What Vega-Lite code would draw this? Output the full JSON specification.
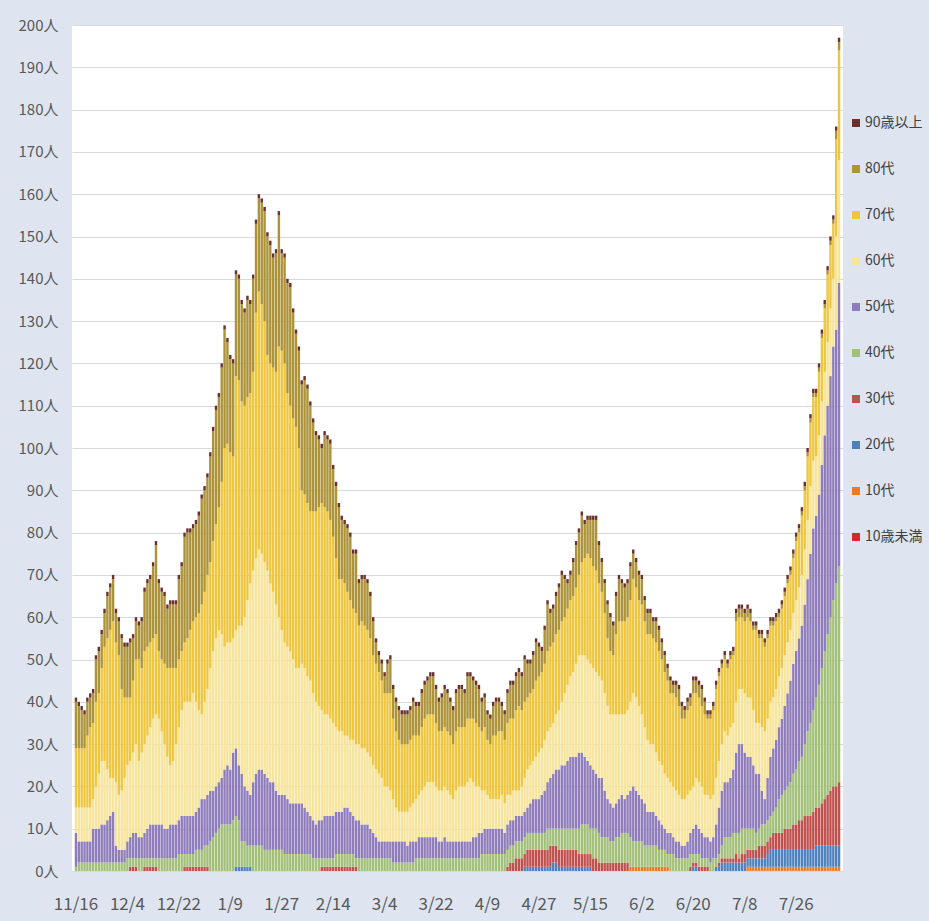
{
"$schema":"https://vega.github.io/schema/vega-lite/v6.json",
"width":771,"height":846,
"autosize":{"type":"none"},
"padding":{"left":72,"top":25,"right":86,"bottom":50},
"background":"#DEE5F0",
"config":{"view":{"fill":"white","stroke":null},"font":"Noto Sans CJK JP"},
"data":{"values":[
{"d":"11/16","k0":0,"k1":0,"k2":0,"k3":0,"k4":1,"k5":8,"k6":6,"k7":14,"k8":11,"k9":1},
{"d":"11/17","k0":0,"k1":0,"k2":0,"k3":0,"k4":2,"k5":5,"k6":8,"k7":14,"k8":10,"k9":1},
{"d":"11/18","k0":0,"k1":0,"k2":0,"k3":0,"k4":2,"k5":5,"k6":8,"k7":14,"k8":9,"k9":1},
{"d":"11/19","k0":0,"k1":0,"k2":0,"k3":0,"k4":2,"k5":5,"k6":8,"k7":14,"k8":8,"k9":1},
{"d":"11/20","k0":0,"k1":0,"k2":0,"k3":0,"k4":2,"k5":5,"k6":8,"k7":17,"k8":8,"k9":1},
{"d":"11/21","k0":0,"k1":0,"k2":0,"k3":0,"k4":2,"k5":5,"k6":8,"k7":19,"k8":7,"k9":1},
{"d":"11/22","k0":0,"k1":0,"k2":0,"k3":0,"k4":2,"k5":8,"k6":7,"k7":18,"k8":7,"k9":1},
{"d":"11/23","k0":0,"k1":0,"k2":0,"k3":0,"k4":2,"k5":8,"k6":10,"k7":20,"k8":10,"k9":1},
{"d":"11/24","k0":0,"k1":0,"k2":0,"k3":0,"k4":2,"k5":8,"k6":13,"k7":19,"k8":10,"k9":1},
{"d":"11/25","k0":0,"k1":0,"k2":0,"k3":0,"k4":2,"k5":9,"k6":15,"k7":22,"k8":8,"k9":1},
{"d":"11/26","k0":0,"k1":0,"k2":0,"k3":0,"k4":2,"k5":9,"k6":15,"k7":27,"k8":8,"k9":1},
{"d":"11/27","k0":0,"k1":0,"k2":0,"k3":0,"k4":2,"k5":10,"k6":12,"k7":31,"k8":10,"k9":1},
{"d":"11/28","k0":0,"k1":0,"k2":0,"k3":0,"k4":2,"k5":11,"k6":9,"k7":35,"k8":10,"k9":1},
{"d":"11/29","k0":0,"k1":0,"k2":0,"k3":0,"k4":2,"k5":12,"k6":8,"k7":37,"k8":10,"k9":1},
{"d":"11/30","k0":0,"k1":0,"k2":0,"k3":0,"k4":2,"k5":4,"k6":15,"k7":33,"k8":7,"k9":1},
{"d":"12/1","k0":0,"k1":0,"k2":0,"k3":0,"k4":2,"k5":3,"k6":13,"k7":33,"k8":8,"k9":1},
{"d":"12/2","k0":0,"k1":0,"k2":0,"k3":0,"k4":2,"k5":3,"k6":14,"k7":24,"k8":12,"k9":1},
{"d":"12/3","k0":0,"k1":0,"k2":0,"k3":0,"k4":2,"k5":3,"k6":17,"k7":19,"k8":12,"k9":1},
{"d":"12/4","k0":0,"k1":0,"k2":0,"k3":0,"k4":3,"k5":4,"k6":18,"k7":16,"k8":12,"k9":1},
{"d":"12/5","k0":0,"k1":0,"k2":0,"k3":1,"k4":2,"k5":5,"k6":18,"k7":15,"k8":13,"k9":1},
{"d":"12/6","k0":0,"k1":0,"k2":0,"k3":1,"k4":2,"k5":6,"k6":19,"k7":17,"k8":10,"k9":1},
{"d":"12/7","k0":0,"k1":0,"k2":0,"k3":1,"k4":2,"k5":6,"k6":21,"k7":20,"k8":9,"k9":1},
{"d":"12/8","k0":0,"k1":0,"k2":0,"k3":0,"k4":3,"k5":5,"k6":18,"k7":24,"k8":8,"k9":1},
{"d":"12/9","k0":0,"k1":0,"k2":0,"k3":0,"k4":3,"k5":5,"k6":20,"k7":20,"k8":11,"k9":1},
{"d":"12/10","k0":0,"k1":0,"k2":0,"k3":1,"k4":2,"k5":6,"k6":21,"k7":22,"k8":14,"k9":1},
{"d":"12/11","k0":0,"k1":0,"k2":0,"k3":1,"k4":2,"k5":7,"k6":22,"k7":21,"k8":15,"k9":1},
{"d":"12/12","k0":0,"k1":0,"k2":0,"k3":1,"k4":2,"k5":8,"k6":23,"k7":20,"k8":15,"k9":1},
{"d":"12/13","k0":0,"k1":0,"k2":0,"k3":1,"k4":2,"k5":8,"k6":25,"k7":19,"k8":17,"k9":1},
{"d":"12/14","k0":0,"k1":0,"k2":0,"k3":1,"k4":2,"k5":8,"k6":26,"k7":19,"k8":21,"k9":1},
{"d":"12/15","k0":0,"k1":0,"k2":0,"k3":0,"k4":3,"k5":8,"k6":25,"k7":16,"k8":16,"k9":1},
{"d":"12/16","k0":0,"k1":0,"k2":0,"k3":0,"k4":3,"k5":8,"k6":22,"k7":17,"k8":16,"k9":1},
{"d":"12/17","k0":0,"k1":0,"k2":0,"k3":0,"k4":3,"k5":7,"k6":20,"k7":19,"k8":16,"k9":1},
{"d":"12/18","k0":0,"k1":0,"k2":0,"k3":0,"k4":3,"k5":7,"k6":17,"k7":21,"k8":14,"k9":1},
{"d":"12/19","k0":0,"k1":0,"k2":0,"k3":0,"k4":3,"k5":8,"k6":14,"k7":23,"k8":15,"k9":1},
{"d":"12/20","k0":0,"k1":0,"k2":0,"k3":0,"k4":3,"k5":8,"k6":15,"k7":22,"k8":15,"k9":1},
{"d":"12/21","k0":0,"k1":0,"k2":0,"k3":0,"k4":3,"k5":8,"k6":19,"k7":18,"k8":15,"k9":1},
{"d":"12/22","k0":0,"k1":0,"k2":0,"k3":0,"k4":4,"k5":8,"k6":22,"k7":16,"k8":19,"k9":1},
{"d":"12/23","k0":0,"k1":0,"k2":0,"k3":0,"k4":4,"k5":9,"k6":25,"k7":14,"k8":20,"k9":1},
{"d":"12/24","k0":0,"k1":0,"k2":0,"k3":1,"k4":3,"k5":9,"k6":27,"k7":14,"k8":25,"k9":1},
{"d":"12/25","k0":0,"k1":0,"k2":0,"k3":1,"k4":3,"k5":9,"k6":27,"k7":15,"k8":25,"k9":1},
{"d":"12/26","k0":0,"k1":0,"k2":0,"k3":1,"k4":3,"k5":9,"k6":27,"k7":17,"k8":23,"k9":1},
{"d":"12/27","k0":0,"k1":0,"k2":0,"k3":1,"k4":3,"k5":9,"k6":29,"k7":17,"k8":22,"k9":1},
{"d":"12/28","k0":0,"k1":0,"k2":0,"k3":1,"k4":4,"k5":9,"k6":26,"k7":20,"k8":22,"k9":1},
{"d":"12/29","k0":0,"k1":0,"k2":0,"k3":1,"k4":4,"k5":10,"k6":23,"k7":23,"k8":23,"k9":1},
{"d":"12/30","k0":0,"k1":0,"k2":0,"k3":1,"k4":4,"k5":12,"k6":20,"k7":26,"k8":25,"k9":1},
{"d":"12/31","k0":0,"k1":0,"k2":0,"k3":1,"k4":5,"k5":11,"k6":23,"k7":26,"k8":24,"k9":1},
{"d":"1/1","k0":0,"k1":0,"k2":0,"k3":1,"k4":5,"k5":12,"k6":25,"k7":27,"k8":23,"k9":1},
{"d":"1/2","k0":0,"k1":0,"k2":0,"k3":0,"k4":7,"k5":12,"k6":29,"k7":25,"k8":25,"k9":1},
{"d":"1/3","k0":0,"k1":0,"k2":0,"k3":0,"k4":8,"k5":11,"k6":33,"k7":26,"k8":26,"k9":1},
{"d":"1/4","k0":0,"k1":0,"k2":0,"k3":0,"k4":9,"k5":11,"k6":35,"k7":27,"k8":27,"k9":1},
{"d":"1/5","k0":0,"k1":0,"k2":0,"k3":0,"k4":10,"k5":11,"k6":36,"k7":29,"k8":26,"k9":1},
{"d":"1/6","k0":0,"k1":0,"k2":0,"k3":0,"k4":11,"k5":11,"k6":34,"k7":36,"k8":27,"k9":1},
{"d":"1/7","k0":0,"k1":0,"k2":0,"k3":0,"k4":11,"k5":13,"k6":29,"k7":47,"k8":28,"k9":1},
{"d":"1/8","k0":0,"k1":0,"k2":0,"k3":0,"k4":11,"k5":14,"k6":29,"k7":47,"k8":24,"k9":1},
{"d":"1/9","k0":0,"k1":0,"k2":0,"k3":0,"k4":11,"k5":13,"k6":30,"k7":45,"k8":22,"k9":1},
{"d":"1/10","k0":0,"k1":0,"k2":0,"k3":0,"k4":12,"k5":16,"k6":27,"k7":43,"k8":22,"k9":1},
{"d":"1/11","k0":0,"k1":0,"k2":1,"k3":0,"k4":12,"k5":16,"k6":28,"k7":60,"k8":24,"k9":1},
{"d":"1/12","k0":0,"k1":0,"k2":1,"k3":0,"k4":11,"k5":13,"k6":33,"k7":58,"k8":24,"k9":1},
{"d":"1/13","k0":0,"k1":0,"k2":1,"k3":0,"k4":6,"k5":16,"k6":35,"k7":53,"k8":23,"k9":1},
{"d":"1/14","k0":0,"k1":0,"k2":1,"k3":0,"k4":6,"k5":13,"k6":40,"k7":50,"k8":22,"k9":1},
{"d":"1/15","k0":0,"k1":0,"k2":1,"k3":0,"k4":5,"k5":13,"k6":45,"k7":48,"k8":23,"k9":1},
{"d":"1/16","k0":0,"k1":0,"k2":1,"k3":0,"k4":5,"k5":12,"k6":50,"k7":45,"k8":21,"k9":1},
{"d":"1/17","k0":0,"k1":0,"k2":0,"k3":0,"k4":6,"k5":15,"k6":50,"k7":47,"k8":22,"k9":1},
{"d":"1/18","k0":0,"k1":0,"k2":0,"k3":0,"k4":6,"k5":17,"k6":51,"k7":58,"k8":21,"k9":1},
{"d":"1/19","k0":0,"k1":0,"k2":0,"k3":0,"k4":6,"k5":18,"k6":52,"k7":61,"k8":22,"k9":1},
{"d":"1/20","k0":0,"k1":0,"k2":0,"k3":0,"k4":6,"k5":18,"k6":51,"k7":59,"k8":24,"k9":1},
{"d":"1/21","k0":0,"k1":0,"k2":0,"k3":0,"k4":5,"k5":18,"k6":50,"k7":57,"k8":26,"k9":1},
{"d":"1/22","k0":0,"k1":0,"k2":0,"k3":0,"k4":5,"k5":17,"k6":49,"k7":51,"k8":28,"k9":1},
{"d":"1/23","k0":0,"k1":0,"k2":0,"k3":0,"k4":5,"k5":16,"k6":47,"k7":52,"k8":28,"k9":1},
{"d":"1/24","k0":0,"k1":0,"k2":0,"k3":0,"k4":5,"k5":16,"k6":45,"k7":53,"k8":26,"k9":1},
{"d":"1/25","k0":0,"k1":0,"k2":0,"k3":0,"k4":5,"k5":14,"k6":44,"k7":55,"k8":28,"k9":1},
{"d":"1/26","k0":0,"k1":0,"k2":0,"k3":0,"k4":5,"k5":13,"k6":42,"k7":64,"k8":31,"k9":1},
{"d":"1/27","k0":0,"k1":0,"k2":0,"k3":0,"k4":5,"k5":13,"k6":39,"k7":66,"k8":23,"k9":1},
{"d":"1/28","k0":0,"k1":0,"k2":0,"k3":0,"k4":4,"k5":14,"k6":36,"k7":66,"k8":25,"k9":1},
{"d":"1/29","k0":0,"k1":0,"k2":0,"k3":0,"k4":4,"k5":13,"k6":36,"k7":60,"k8":26,"k9":1},
{"d":"1/30","k0":0,"k1":0,"k2":0,"k3":0,"k4":4,"k5":12,"k6":36,"k7":58,"k8":28,"k9":1},
{"d":"1/31","k0":0,"k1":0,"k2":0,"k3":0,"k4":4,"k5":12,"k6":34,"k7":57,"k8":25,"k9":1},
{"d":"2/1","k0":0,"k1":0,"k2":0,"k3":0,"k4":4,"k5":12,"k6":32,"k7":57,"k8":22,"k9":1},
{"d":"2/2","k0":0,"k1":0,"k2":0,"k3":0,"k4":4,"k5":12,"k6":32,"k7":52,"k8":23,"k9":1},
{"d":"2/3","k0":0,"k1":0,"k2":0,"k3":0,"k4":4,"k5":12,"k6":33,"k7":41,"k8":25,"k9":1},
{"d":"2/4","k0":0,"k1":0,"k2":0,"k3":0,"k4":4,"k5":11,"k6":33,"k7":41,"k8":27,"k9":1},
{"d":"2/5","k0":0,"k1":0,"k2":0,"k3":0,"k4":4,"k5":10,"k6":32,"k7":41,"k8":27,"k9":1},
{"d":"2/6","k0":0,"k1":0,"k2":0,"k3":0,"k4":4,"k5":9,"k6":32,"k7":40,"k8":25,"k9":1},
{"d":"2/7","k0":0,"k1":0,"k2":0,"k3":0,"k4":3,"k5":9,"k6":30,"k7":43,"k8":21,"k9":1},
{"d":"2/8","k0":0,"k1":0,"k2":0,"k3":0,"k4":3,"k5":8,"k6":29,"k7":45,"k8":18,"k9":1},
{"d":"2/9","k0":0,"k1":0,"k2":0,"k3":0,"k4":3,"k5":9,"k6":27,"k7":47,"k8":16,"k9":1},
{"d":"2/10","k0":0,"k1":0,"k2":0,"k3":1,"k4":2,"k5":9,"k6":26,"k7":49,"k8":13,"k9":1},
{"d":"2/11","k0":0,"k1":0,"k2":0,"k3":1,"k4":2,"k5":10,"k6":24,"k7":49,"k8":17,"k9":1},
{"d":"2/12","k0":0,"k1":0,"k2":0,"k3":1,"k4":2,"k5":10,"k6":24,"k7":48,"k8":17,"k9":1},
{"d":"2/13","k0":0,"k1":0,"k2":0,"k3":1,"k4":2,"k5":10,"k6":23,"k7":47,"k8":18,"k9":1},
{"d":"2/14","k0":0,"k1":0,"k2":0,"k3":1,"k4":2,"k5":10,"k6":22,"k7":44,"k8":16,"k9":1},
{"d":"2/15","k0":0,"k1":0,"k2":0,"k3":1,"k4":3,"k5":10,"k6":20,"k7":40,"k8":17,"k9":1},
{"d":"2/16","k0":0,"k1":0,"k2":0,"k3":1,"k4":3,"k5":10,"k6":19,"k7":36,"k8":17,"k9":1},
{"d":"2/17","k0":0,"k1":0,"k2":0,"k3":1,"k4":3,"k5":10,"k6":19,"k7":36,"k8":14,"k9":1},
{"d":"2/18","k0":0,"k1":0,"k2":0,"k3":1,"k4":3,"k5":11,"k6":17,"k7":36,"k8":14,"k9":1},
{"d":"2/19","k0":0,"k1":0,"k2":0,"k3":1,"k4":3,"k5":11,"k6":17,"k7":34,"k8":15,"k9":1},
{"d":"2/20","k0":0,"k1":0,"k2":0,"k3":1,"k4":3,"k5":10,"k6":17,"k7":33,"k8":15,"k9":1},
{"d":"2/21","k0":0,"k1":0,"k2":0,"k3":1,"k4":3,"k5":9,"k6":18,"k7":31,"k8":13,"k9":1},
{"d":"2/22","k0":0,"k1":0,"k2":0,"k3":1,"k4":2,"k5":9,"k6":18,"k7":31,"k8":14,"k9":1},
{"d":"2/23","k0":0,"k1":0,"k2":0,"k3":0,"k4":3,"k5":9,"k6":18,"k7":28,"k8":10,"k9":1},
{"d":"2/24","k0":0,"k1":0,"k2":0,"k3":0,"k4":3,"k5":8,"k6":18,"k7":30,"k8":10,"k9":1},
{"d":"2/25","k0":0,"k1":0,"k2":0,"k3":0,"k4":3,"k5":8,"k6":18,"k7":29,"k8":11,"k9":1},
{"d":"2/26","k0":0,"k1":0,"k2":0,"k3":0,"k4":3,"k5":8,"k6":17,"k7":29,"k8":11,"k9":1},
{"d":"2/27","k0":0,"k1":0,"k2":0,"k3":0,"k4":3,"k5":7,"k6":17,"k7":28,"k8":10,"k9":1},
{"d":"2/28","k0":0,"k1":0,"k2":0,"k3":0,"k4":3,"k5":6,"k6":16,"k7":26,"k8":8,"k9":1},
{"d":"3/1","k0":0,"k1":0,"k2":0,"k3":0,"k4":3,"k5":5,"k6":16,"k7":25,"k8":5,"k9":1},
{"d":"3/2","k0":0,"k1":0,"k2":0,"k3":0,"k4":3,"k5":4,"k6":16,"k7":24,"k8":4,"k9":1},
{"d":"3/3","k0":0,"k1":0,"k2":0,"k3":0,"k4":3,"k5":4,"k6":15,"k7":23,"k8":4,"k9":1},
{"d":"3/4","k0":0,"k1":0,"k2":0,"k3":0,"k4":3,"k5":4,"k6":13,"k7":22,"k8":4,"k9":1},
{"d":"3/5","k0":0,"k1":0,"k2":0,"k3":0,"k4":3,"k5":4,"k6":13,"k7":22,"k8":7,"k9":1},
{"d":"3/6","k0":0,"k1":0,"k2":0,"k3":0,"k4":3,"k5":4,"k6":12,"k7":23,"k8":8,"k9":1},
{"d":"3/7","k0":0,"k1":0,"k2":0,"k3":0,"k4":2,"k5":5,"k6":10,"k7":19,"k8":7,"k9":1},
{"d":"3/8","k0":0,"k1":0,"k2":0,"k3":0,"k4":2,"k5":5,"k6":8,"k7":18,"k8":7,"k9":1},
{"d":"3/9","k0":0,"k1":0,"k2":0,"k3":0,"k4":2,"k5":5,"k6":7,"k7":17,"k8":7,"k9":1},
{"d":"3/10","k0":0,"k1":0,"k2":0,"k3":0,"k4":2,"k5":5,"k6":7,"k7":16,"k8":7,"k9":1},
{"d":"3/11","k0":0,"k1":0,"k2":0,"k3":0,"k4":2,"k5":5,"k6":7,"k7":16,"k8":7,"k9":1},
{"d":"3/12","k0":0,"k1":0,"k2":0,"k3":0,"k4":2,"k5":4,"k6":8,"k7":16,"k8":7,"k9":1},
{"d":"3/13","k0":0,"k1":0,"k2":0,"k3":0,"k4":2,"k5":5,"k6":8,"k7":16,"k8":7,"k9":1},
{"d":"3/14","k0":0,"k1":0,"k2":0,"k3":0,"k4":2,"k5":5,"k6":9,"k7":16,"k8":8,"k9":1},
{"d":"3/15","k0":0,"k1":0,"k2":0,"k3":0,"k4":3,"k5":4,"k6":10,"k7":15,"k8":7,"k9":1},
{"d":"3/16","k0":0,"k1":0,"k2":0,"k3":0,"k4":3,"k5":5,"k6":10,"k7":14,"k8":7,"k9":1},
{"d":"3/17","k0":0,"k1":0,"k2":0,"k3":0,"k4":3,"k5":5,"k6":11,"k7":15,"k8":8,"k9":1},
{"d":"3/18","k0":0,"k1":0,"k2":0,"k3":0,"k4":3,"k5":5,"k6":12,"k7":16,"k8":8,"k9":1},
{"d":"3/19","k0":0,"k1":0,"k2":0,"k3":0,"k4":3,"k5":5,"k6":13,"k7":16,"k8":8,"k9":1},
{"d":"3/20","k0":0,"k1":0,"k2":0,"k3":0,"k4":3,"k5":5,"k6":13,"k7":16,"k8":9,"k9":1},
{"d":"3/21","k0":0,"k1":0,"k2":0,"k3":0,"k4":3,"k5":5,"k6":13,"k7":16,"k8":9,"k9":1},
{"d":"3/22","k0":0,"k1":0,"k2":0,"k3":0,"k4":3,"k5":5,"k6":12,"k7":15,"k8":8,"k9":1},
{"d":"3/23","k0":0,"k1":0,"k2":0,"k3":0,"k4":3,"k5":4,"k6":12,"k7":14,"k8":7,"k9":1},
{"d":"3/24","k0":0,"k1":0,"k2":0,"k3":0,"k4":3,"k5":4,"k6":12,"k7":14,"k8":8,"k9":1},
{"d":"3/25","k0":0,"k1":0,"k2":0,"k3":0,"k4":3,"k5":5,"k6":12,"k7":14,"k8":9,"k9":1},
{"d":"3/26","k0":0,"k1":0,"k2":0,"k3":0,"k4":3,"k5":4,"k6":12,"k7":14,"k8":9,"k9":1},
{"d":"3/27","k0":0,"k1":0,"k2":0,"k3":0,"k4":3,"k5":4,"k6":11,"k7":14,"k8":8,"k9":1},
{"d":"3/28","k0":0,"k1":0,"k2":0,"k3":0,"k4":3,"k5":4,"k6":10,"k7":13,"k8":8,"k9":1},
{"d":"3/29","k0":0,"k1":0,"k2":0,"k3":0,"k4":3,"k5":4,"k6":12,"k7":14,"k8":9,"k9":1},
{"d":"3/30","k0":0,"k1":0,"k2":0,"k3":0,"k4":3,"k5":4,"k6":13,"k7":14,"k8":9,"k9":1},
{"d":"3/31","k0":0,"k1":0,"k2":0,"k3":0,"k4":3,"k5":4,"k6":13,"k7":14,"k8":9,"k9":1},
{"d":"4/1","k0":0,"k1":0,"k2":0,"k3":0,"k4":3,"k5":4,"k6":13,"k7":14,"k8":8,"k9":1},
{"d":"4/2","k0":0,"k1":0,"k2":0,"k3":0,"k4":3,"k5":4,"k6":14,"k7":15,"k8":10,"k9":1},
{"d":"4/3","k0":0,"k1":0,"k2":0,"k3":0,"k4":3,"k5":4,"k6":15,"k7":14,"k8":10,"k9":1},
{"d":"4/4","k0":0,"k1":0,"k2":0,"k3":0,"k4":3,"k5":5,"k6":13,"k7":15,"k8":9,"k9":1},
{"d":"4/5","k0":0,"k1":0,"k2":0,"k3":0,"k4":3,"k5":5,"k6":12,"k7":15,"k8":9,"k9":1},
{"d":"4/6","k0":0,"k1":0,"k2":0,"k3":0,"k4":3,"k5":6,"k6":11,"k7":14,"k8":9,"k9":1},
{"d":"4/7","k0":0,"k1":0,"k2":0,"k3":0,"k4":4,"k5":5,"k6":10,"k7":14,"k8":7,"k9":1},
{"d":"4/8","k0":0,"k1":0,"k2":0,"k3":0,"k4":4,"k5":6,"k6":9,"k7":15,"k8":7,"k9":1},
{"d":"4/9","k0":0,"k1":0,"k2":0,"k3":0,"k4":4,"k5":6,"k6":8,"k7":13,"k8":6,"k9":1},
{"d":"4/10","k0":0,"k1":0,"k2":0,"k3":0,"k4":4,"k5":6,"k6":7,"k7":13,"k8":6,"k9":1},
{"d":"4/11","k0":0,"k1":0,"k2":0,"k3":0,"k4":4,"k5":6,"k6":7,"k7":15,"k8":7,"k9":1},
{"d":"4/12","k0":0,"k1":0,"k2":0,"k3":0,"k4":4,"k5":6,"k6":7,"k7":15,"k8":8,"k9":1},
{"d":"4/13","k0":0,"k1":0,"k2":0,"k3":0,"k4":4,"k5":6,"k6":7,"k7":16,"k8":7,"k9":1},
{"d":"4/14","k0":0,"k1":0,"k2":0,"k3":0,"k4":4,"k5":6,"k6":8,"k7":15,"k8":6,"k9":1},
{"d":"4/15","k0":0,"k1":0,"k2":0,"k3":0,"k4":4,"k5":5,"k6":7,"k7":15,"k8":6,"k9":1},
{"d":"4/16","k0":0,"k1":0,"k2":0,"k3":1,"k4":4,"k5":6,"k6":7,"k7":17,"k8":7,"k9":1},
{"d":"4/17","k0":0,"k1":0,"k2":0,"k3":2,"k4":4,"k5":6,"k6":6,"k7":18,"k8":8,"k9":1},
{"d":"4/18","k0":0,"k1":0,"k2":0,"k3":2,"k4":4,"k5":6,"k6":7,"k7":17,"k8":8,"k9":1},
{"d":"4/19","k0":0,"k1":0,"k2":0,"k3":3,"k4":4,"k5":6,"k6":6,"k7":19,"k8":8,"k9":1},
{"d":"4/20","k0":0,"k1":0,"k2":0,"k3":3,"k4":4,"k5":6,"k6":6,"k7":20,"k8":8,"k9":1},
{"d":"4/21","k0":0,"k1":0,"k2":0,"k3":3,"k4":4,"k5":6,"k6":7,"k7":18,"k8":8,"k9":1},
{"d":"4/22","k0":0,"k1":0,"k2":1,"k3":3,"k4":4,"k5":6,"k6":8,"k7":18,"k8":10,"k9":1},
{"d":"4/23","k0":0,"k1":0,"k2":1,"k3":4,"k4":4,"k5":6,"k6":9,"k7":17,"k8":8,"k9":1},
{"d":"4/24","k0":0,"k1":0,"k2":1,"k3":4,"k4":4,"k5":7,"k6":9,"k7":17,"k8":7,"k9":1},
{"d":"4/25","k0":0,"k1":0,"k2":1,"k3":4,"k4":4,"k5":8,"k6":9,"k7":17,"k8":8,"k9":1},
{"d":"4/26","k0":0,"k1":0,"k2":1,"k3":4,"k4":4,"k5":8,"k6":10,"k7":18,"k8":9,"k9":1},
{"d":"4/27","k0":0,"k1":0,"k2":1,"k3":4,"k4":4,"k5":8,"k6":11,"k7":18,"k8":7,"k9":1},
{"d":"4/28","k0":0,"k1":0,"k2":1,"k3":4,"k4":4,"k5":9,"k6":11,"k7":18,"k8":5,"k9":1},
{"d":"4/29","k0":0,"k1":0,"k2":1,"k3":4,"k4":4,"k5":10,"k6":12,"k7":18,"k8":8,"k9":1},
{"d":"4/30","k0":0,"k1":0,"k2":1,"k3":4,"k4":5,"k5":11,"k6":12,"k7":19,"k8":11,"k9":1},
{"d":"5/1","k0":0,"k1":0,"k2":1,"k3":5,"k4":4,"k5":12,"k6":12,"k7":19,"k8":8,"k9":1},
{"d":"5/2","k0":0,"k1":0,"k2":2,"k3":4,"k4":4,"k5":13,"k6":12,"k7":19,"k8":8,"k9":1},
{"d":"5/3","k0":0,"k1":0,"k2":2,"k3":4,"k4":4,"k5":14,"k6":13,"k7":19,"k8":9,"k9":1},
{"d":"5/4","k0":0,"k1":0,"k2":1,"k3":4,"k4":5,"k5":14,"k6":14,"k7":19,"k8":10,"k9":1},
{"d":"5/5","k0":0,"k1":0,"k2":1,"k3":4,"k4":5,"k5":15,"k6":15,"k7":19,"k8":11,"k9":1},
{"d":"5/6","k0":0,"k1":0,"k2":1,"k3":4,"k4":5,"k5":15,"k6":17,"k7":18,"k8":9,"k9":1},
{"d":"5/7","k0":0,"k1":0,"k2":1,"k3":4,"k4":5,"k5":16,"k6":18,"k7":18,"k8":6,"k9":1},
{"d":"5/8","k0":0,"k1":0,"k2":1,"k3":4,"k4":5,"k5":17,"k6":19,"k7":18,"k8":6,"k9":1},
{"d":"5/9","k0":0,"k1":0,"k2":1,"k3":4,"k4":5,"k5":17,"k6":20,"k7":18,"k8":8,"k9":1},
{"d":"5/10","k0":0,"k1":0,"k2":1,"k3":4,"k4":5,"k5":17,"k6":22,"k7":18,"k8":10,"k9":1},
{"d":"5/11","k0":0,"k1":0,"k2":1,"k3":3,"k4":6,"k5":18,"k6":23,"k7":19,"k8":10,"k9":1},
{"d":"5/12","k0":0,"k1":0,"k2":1,"k3":3,"k4":7,"k5":17,"k6":23,"k7":22,"k8":11,"k9":1},
{"d":"5/13","k0":0,"k1":0,"k2":1,"k3":3,"k4":7,"k5":16,"k6":24,"k7":23,"k8":8,"k9":1},
{"d":"5/14","k0":0,"k1":0,"k2":1,"k3":3,"k4":7,"k5":15,"k6":24,"k7":25,"k8":8,"k9":1},
{"d":"5/15","k0":0,"k1":0,"k2":1,"k3":3,"k4":6,"k5":15,"k6":24,"k7":25,"k8":9,"k9":1},
{"d":"5/16","k0":0,"k1":0,"k2":0,"k3":3,"k4":7,"k5":14,"k6":24,"k7":24,"k8":11,"k9":1},
{"d":"5/17","k0":0,"k1":0,"k2":0,"k3":3,"k4":7,"k5":13,"k6":24,"k7":24,"k8":12,"k9":1},
{"d":"5/18","k0":0,"k1":0,"k2":0,"k3":2,"k4":7,"k5":13,"k6":24,"k7":22,"k8":9,"k9":1},
{"d":"5/19","k0":0,"k1":0,"k2":0,"k3":2,"k4":6,"k5":14,"k6":23,"k7":21,"k8":7,"k9":1},
{"d":"5/20","k0":0,"k1":0,"k2":0,"k3":2,"k4":6,"k5":11,"k6":23,"k7":19,"k8":7,"k9":1},
{"d":"5/21","k0":0,"k1":0,"k2":0,"k3":2,"k4":6,"k5":9,"k6":22,"k7":16,"k8":8,"k9":1},
{"d":"5/22","k0":0,"k1":0,"k2":0,"k3":2,"k4":5,"k5":9,"k6":21,"k7":15,"k8":8,"k9":1},
{"d":"5/23","k0":0,"k1":0,"k2":0,"k3":2,"k4":5,"k5":8,"k6":22,"k7":14,"k8":7,"k9":1},
{"d":"5/24","k0":0,"k1":0,"k2":0,"k3":2,"k4":6,"k5":8,"k6":21,"k7":19,"k8":9,"k9":1},
{"d":"5/25","k0":0,"k1":0,"k2":0,"k3":2,"k4":6,"k5":9,"k6":20,"k7":22,"k8":10,"k9":1},
{"d":"5/26","k0":0,"k1":0,"k2":0,"k3":2,"k4":7,"k5":9,"k6":19,"k7":22,"k8":9,"k9":1},
{"d":"5/27","k0":0,"k1":0,"k2":0,"k3":2,"k4":7,"k5":8,"k6":20,"k7":22,"k8":8,"k9":1},
{"d":"5/28","k0":0,"k1":0,"k2":0,"k3":2,"k4":7,"k5":9,"k6":20,"k7":22,"k8":8,"k9":1},
{"d":"5/29","k0":0,"k1":1,"k2":0,"k3":0,"k4":7,"k5":11,"k6":21,"k7":24,"k8":8,"k9":1},
{"d":"5/30","k0":0,"k1":1,"k2":0,"k3":0,"k4":6,"k5":13,"k6":22,"k7":27,"k8":6,"k9":1},
{"d":"5/31","k0":0,"k1":1,"k2":0,"k3":0,"k4":6,"k5":12,"k6":22,"k7":26,"k8":6,"k9":1},
{"d":"6/1","k0":0,"k1":1,"k2":0,"k3":0,"k4":6,"k5":11,"k6":21,"k7":25,"k8":6,"k9":1},
{"d":"6/2","k0":0,"k1":1,"k2":0,"k3":0,"k4":6,"k5":10,"k6":20,"k7":26,"k8":6,"k9":1},
{"d":"6/3","k0":0,"k1":1,"k2":0,"k3":0,"k4":5,"k5":10,"k6":18,"k7":25,"k8":5,"k9":1},
{"d":"6/4","k0":0,"k1":1,"k2":0,"k3":0,"k4":5,"k5":8,"k6":17,"k7":25,"k8":5,"k9":1},
{"d":"6/5","k0":0,"k1":1,"k2":0,"k3":0,"k4":5,"k5":8,"k6":16,"k7":26,"k8":5,"k9":1},
{"d":"6/6","k0":0,"k1":1,"k2":0,"k3":0,"k4":5,"k5":8,"k6":16,"k7":25,"k8":4,"k9":1},
{"d":"6/7","k0":0,"k1":1,"k2":0,"k3":0,"k4":5,"k5":7,"k6":15,"k7":26,"k8":5,"k9":1},
{"d":"6/8","k0":0,"k1":1,"k2":0,"k3":0,"k4":4,"k5":7,"k6":14,"k7":26,"k8":5,"k9":1},
{"d":"6/9","k0":0,"k1":1,"k2":0,"k3":0,"k4":4,"k5":6,"k6":14,"k7":25,"k8":4,"k9":1},
{"d":"6/10","k0":0,"k1":1,"k2":0,"k3":0,"k4":4,"k5":5,"k6":13,"k7":24,"k8":4,"k9":1},
{"d":"6/11","k0":0,"k1":1,"k2":0,"k3":0,"k4":3,"k5":5,"k6":13,"k7":23,"k8":3,"k9":1},
{"d":"6/12","k0":0,"k1":0,"k2":0,"k3":0,"k4":4,"k5":5,"k6":12,"k7":21,"k8":3,"k9":1},
{"d":"6/13","k0":0,"k1":0,"k2":0,"k3":0,"k4":4,"k5":4,"k6":12,"k7":22,"k8":2,"k9":1},
{"d":"6/14","k0":0,"k1":0,"k2":0,"k3":0,"k4":3,"k5":4,"k6":12,"k7":22,"k8":3,"k9":1},
{"d":"6/15","k0":0,"k1":0,"k2":0,"k3":0,"k4":3,"k5":4,"k6":11,"k7":21,"k8":4,"k9":1},
{"d":"6/16","k0":0,"k1":0,"k2":0,"k3":0,"k4":3,"k5":3,"k6":11,"k7":19,"k8":3,"k9":1},
{"d":"6/17","k0":0,"k1":0,"k2":0,"k3":0,"k4":3,"k5":3,"k6":11,"k7":19,"k8":2,"k9":1},
{"d":"6/18","k0":0,"k1":0,"k2":0,"k3":0,"k4":3,"k5":4,"k6":11,"k7":20,"k8":2,"k9":1},
{"d":"6/19","k0":0,"k1":0,"k2":0,"k3":1,"k4":3,"k5":5,"k6":10,"k7":20,"k8":2,"k9":1},
{"d":"6/20","k0":0,"k1":0,"k2":1,"k3":1,"k4":2,"k5":6,"k6":10,"k7":22,"k8":3,"k9":1},
{"d":"6/21","k0":0,"k1":0,"k2":1,"k3":1,"k4":2,"k5":7,"k6":11,"k7":20,"k8":3,"k9":1},
{"d":"6/22","k0":0,"k1":0,"k2":0,"k3":1,"k4":3,"k5":6,"k6":11,"k7":20,"k8":3,"k9":1},
{"d":"6/23","k0":0,"k1":0,"k2":0,"k3":1,"k4":2,"k5":6,"k6":11,"k7":19,"k8":4,"k9":1},
{"d":"6/24","k0":0,"k1":0,"k2":0,"k3":1,"k4":2,"k5":5,"k6":10,"k7":19,"k8":3,"k9":1},
{"d":"6/25","k0":0,"k1":0,"k2":0,"k3":1,"k4":2,"k5":5,"k6":10,"k7":18,"k8":1,"k9":1},
{"d":"6/26","k0":0,"k1":0,"k2":0,"k3":0,"k4":2,"k5":5,"k6":10,"k7":19,"k8":1,"k9":1},
{"d":"6/27","k0":0,"k1":0,"k2":0,"k3":0,"k4":3,"k5":5,"k6":10,"k7":20,"k8":1,"k9":1},
{"d":"6/28","k0":0,"k1":0,"k2":1,"k3":0,"k4":2,"k5":8,"k6":11,"k7":21,"k8":1,"k9":1},
{"d":"6/29","k0":0,"k1":0,"k2":1,"k3":1,"k4":2,"k5":11,"k6":11,"k7":20,"k8":1,"k9":1},
{"d":"6/30","k0":0,"k1":0,"k2":2,"k3":1,"k4":3,"k5":13,"k6":11,"k7":18,"k8":1,"k9":1},
{"d":"7/1","k0":0,"k1":0,"k2":2,"k3":1,"k4":5,"k5":13,"k6":12,"k7":17,"k8":1,"k9":1},
{"d":"7/2","k0":0,"k1":0,"k2":2,"k3":1,"k4":5,"k5":13,"k6":11,"k7":16,"k8":1,"k9":1},
{"d":"7/3","k0":0,"k1":0,"k2":2,"k3":1,"k4":5,"k5":14,"k6":12,"k7":16,"k8":1,"k9":1},
{"d":"7/4","k0":0,"k1":0,"k2":2,"k3":1,"k4":6,"k5":15,"k6":11,"k7":16,"k8":1,"k9":1},
{"d":"7/5","k0":0,"k1":0,"k2":2,"k3":2,"k4":5,"k5":19,"k6":12,"k7":19,"k8":2,"k9":1},
{"d":"7/6","k0":0,"k1":0,"k2":2,"k3":1,"k4":6,"k5":21,"k6":13,"k7":17,"k8":2,"k9":1},
{"d":"7/7","k0":0,"k1":0,"k2":2,"k3":2,"k4":6,"k5":20,"k6":13,"k7":17,"k8":2,"k9":1},
{"d":"7/8","k0":0,"k1":0,"k2":2,"k3":2,"k4":6,"k5":18,"k6":14,"k7":17,"k8":2,"k9":1},
{"d":"7/9","k0":0,"k1":1,"k2":2,"k3":2,"k4":5,"k5":17,"k6":14,"k7":19,"k8":2,"k9":1},
{"d":"7/10","k0":0,"k1":1,"k2":2,"k3":2,"k4":5,"k5":17,"k6":14,"k7":18,"k8":2,"k9":1},
{"d":"7/11","k0":0,"k1":1,"k2":2,"k3":2,"k4":5,"k5":15,"k6":13,"k7":19,"k8":1,"k9":1},
{"d":"7/12","k0":0,"k1":1,"k2":2,"k3":2,"k4":4,"k5":14,"k6":12,"k7":22,"k8":1,"k9":1},
{"d":"7/13","k0":0,"k1":1,"k2":2,"k3":3,"k4":4,"k5":13,"k6":12,"k7":20,"k8":1,"k9":1},
{"d":"7/14","k0":0,"k1":1,"k2":2,"k3":3,"k4":5,"k5":8,"k6":15,"k7":21,"k8":1,"k9":1},
{"d":"7/15","k0":0,"k1":1,"k2":2,"k3":3,"k4":5,"k5":6,"k6":16,"k7":20,"k8":1,"k9":1},
{"d":"7/16","k0":0,"k1":1,"k2":3,"k3":3,"k4":5,"k5":10,"k6":14,"k7":19,"k8":1,"k9":1},
{"d":"7/17","k0":0,"k1":1,"k2":4,"k3":3,"k4":5,"k5":14,"k6":13,"k7":18,"k8":1,"k9":1},
{"d":"7/18","k0":0,"k1":1,"k2":4,"k3":4,"k4":5,"k5":15,"k6":12,"k7":17,"k8":1,"k9":1},
{"d":"7/19","k0":0,"k1":1,"k2":4,"k3":4,"k4":6,"k5":16,"k6":12,"k7":16,"k8":1,"k9":1},
{"d":"7/20","k0":0,"k1":1,"k2":4,"k3":4,"k4":8,"k5":17,"k6":12,"k7":14,"k8":1,"k9":1},
{"d":"7/21","k0":0,"k1":1,"k2":4,"k3":4,"k4":9,"k5":18,"k6":12,"k7":14,"k8":1,"k9":1},
{"d":"7/22","k0":0,"k1":1,"k2":4,"k3":5,"k4":9,"k5":20,"k6":12,"k7":14,"k8":1,"k9":1},
{"d":"7/23","k0":0,"k1":1,"k2":4,"k3":5,"k4":10,"k5":22,"k6":12,"k7":14,"k8":1,"k9":1},
{"d":"7/24","k0":0,"k1":1,"k2":4,"k3":5,"k4":11,"k5":24,"k6":12,"k7":13,"k8":1,"k9":1},
{"d":"7/25","k0":0,"k1":1,"k2":4,"k3":6,"k4":12,"k5":26,"k6":12,"k7":13,"k8":1,"k9":1},
{"d":"7/26","k0":0,"k1":1,"k2":4,"k3":6,"k4":13,"k5":28,"k6":12,"k7":14,"k8":1,"k9":1},
{"d":"7/27","k0":0,"k1":1,"k2":4,"k3":7,"k4":14,"k5":29,"k6":12,"k7":13,"k8":1,"k9":1},
{"d":"7/28","k0":0,"k1":1,"k2":4,"k3":7,"k4":15,"k5":31,"k6":12,"k7":14,"k8":1,"k9":1},
{"d":"7/29","k0":0,"k1":1,"k2":4,"k3":8,"k4":17,"k5":33,"k6":13,"k7":14,"k8":1,"k9":1},
{"d":"7/30","k0":0,"k1":1,"k2":4,"k3":8,"k4":20,"k5":36,"k6":14,"k7":15,"k8":1,"k9":1},
{"d":"7/31","k0":0,"k1":1,"k2":4,"k3":8,"k4":22,"k5":40,"k6":16,"k7":15,"k8":1,"k9":1},
{"d":"8/1","k0":0,"k1":1,"k2":4,"k3":9,"k4":24,"k5":43,"k6":16,"k7":15,"k8":1,"k9":1},
{"d":"8/2","k0":0,"k1":1,"k2":5,"k3":9,"k4":26,"k5":43,"k6":14,"k7":14,"k8":1,"k9":1},
{"d":"8/3","k0":0,"k1":1,"k2":5,"k3":9,"k4":29,"k5":45,"k6":14,"k7":15,"k8":1,"k9":1},
{"d":"8/4","k0":0,"k1":1,"k2":5,"k3":10,"k4":32,"k5":48,"k6":15,"k7":15,"k8":1,"k9":1},
{"d":"8/5","k0":0,"k1":1,"k2":5,"k3":11,"k4":35,"k5":51,"k6":15,"k7":15,"k8":1,"k9":1},
{"d":"8/6","k0":0,"k1":1,"k2":5,"k3":12,"k4":38,"k5":54,"k6":15,"k7":16,"k8":1,"k9":1},
{"d":"8/7","k0":0,"k1":1,"k2":5,"k3":13,"k4":41,"k5":57,"k6":16,"k7":15,"k8":1,"k9":1},
{"d":"8/8","k0":0,"k1":1,"k2":5,"k3":14,"k4":44,"k5":60,"k6":16,"k7":13,"k8":1,"k9":1},
{"d":"8/9","k0":0,"k1":1,"k2":5,"k3":14,"k4":48,"k5":60,"k6":22,"k7":23,"k8":2,"k9":1},
{"d":"8/10","k0":0,"k1":1,"k2":5,"k3":15,"k4":51,"k5":67,"k6":29,"k7":26,"k8":2,"k9":1}
]},
"transform":[
{"fold":["k0","k1","k2","k3","k4","k5","k6","k7","k8","k9"],"as":["key","n"]},
{"lookup":"key","from":{"data":{"values":[
{"key":"k0","age":"10歳未満","o":0},
{"key":"k1","age":"10代","o":1},
{"key":"k2","age":"20代","o":2},
{"key":"k3","age":"30代","o":3},
{"key":"k4","age":"40代","o":4},
{"key":"k5","age":"50代","o":5},
{"key":"k6","age":"60代","o":6},
{"key":"k7","age":"70代","o":7},
{"key":"k8","age":"80代","o":8},
{"key":"k9","age":"90歳以上","o":9}
]},"key":"key","fields":["age","o"]}}
],
"mark":{"type":"bar"},
"encoding":{
"x":{"field":"d","type":"ordinal","sort":null,
 "scale":{"paddingInner":0.15,"paddingOuter":0.96},
 "axis":{"title":null,"values":["11/16","12/4","12/22","1/9","1/27","2/14","3/4","3/22","4/9","4/27","5/15","6/2","6/20","7/8","7/26"],
  "labelAngle":0,"domain":false,"ticks":false,"grid":false,"labelPadding":25,"labelFontSize":17,"labelColor":"#595959","labelFont":"Noto Sans CJK JP"}},
"y":{"field":"n","type":"quantitative","stack":"zero",
 "scale":{"domain":[0,200],"nice":false},
 "axis":{"title":null,"values":[0,10,20,30,40,50,60,70,80,90,100,110,120,130,140,150,160,170,180,190,200],
  "labelExpr":"datum.value + '人'","domain":false,"ticks":false,"grid":true,"gridColor":"#D9D9D9","gridWidth":1,
  "labelPadding":14,"labelFontSize":15,"labelColor":"#595959","labelFont":"Noto Sans CJK JP"}},
"color":{"field":"age","type":"nominal",
 "scale":{"domain":["90歳以上","80代","70代","60代","50代","40代","30代","20代","10代","10歳未満"],
  "range":["#6B2F2F","#AD9339","#EEC63F","#F7E49C","#8F7DBB","#A3C07A","#C0504D","#4F81BD","#F07A22","#D9262A"]},
 "legend":{"title":null,"orient":"none","legendX":777,"legendY":91,"symbolType":"square","symbolSize":64,
  "symbolStrokeWidth":0,"labelFontSize":14,"labelColor":"#404040","labelFont":"Noto Sans CJK JP","rowPadding":32,"labelOffset":2,"padding":0}},
"order":{"field":"o","type":"quantitative"}
}
}
